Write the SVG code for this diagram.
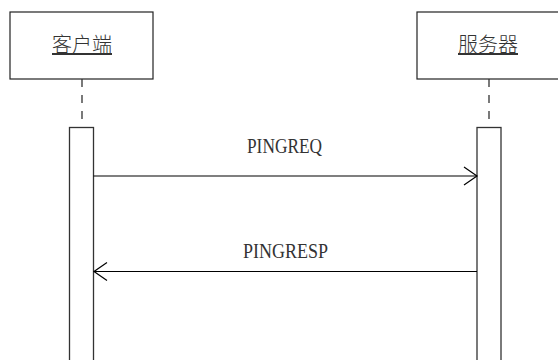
<svg xmlns="http://www.w3.org/2000/svg" width="558" height="360" viewBox="0 0 558 360">
<style>
.box{fill:#fff;stroke:#222;stroke-width:1.2}
.act{fill:#fff;stroke:#333;stroke-width:1.3}
.life{stroke:#333;stroke-width:1.3;stroke-dasharray:8 8;fill:none}
.msg{stroke:#000;stroke-width:1.2;fill:none}
.head{stroke:#000;stroke-width:1.2;fill:none}
.cjk{font-family:"Noto Sans CJK SC","Noto Sans",sans-serif;font-size:20px;font-weight:300;fill:#333;text-anchor:middle;text-decoration:underline}
.lbl{font-family:"Liberation Serif",serif;font-size:21px;fill:#333}
</style>
<rect width="558" height="360" fill="#fff"/>
<g id="client">
<rect class="box" x="10" y="12" width="143" height="67"/>
<text class="cjk" x="82" y="52">客户端</text>
<line class="life" x1="82" y1="79" x2="82" y2="127"/>
<rect class="act" x="69.5" y="127.5" width="24" height="240"/>
</g>
<g id="server">
<rect class="box" x="417" y="12" width="143" height="67"/>
<text class="cjk" x="488" y="52">服务器</text>
<line class="life" x1="489" y1="79" x2="489" y2="127"/>
<rect class="act" x="477" y="127.5" width="24" height="240"/>
</g>
<g id="connectors">
<g id="pingreq">
<line class="msg" x1="93.5" y1="176" x2="477" y2="176"/>
<polyline class="head" points="464,167 477,176 464,185"/>
<text class="lbl" x="247" y="153" textLength="75" lengthAdjust="spacingAndGlyphs">PINGREQ</text>
</g>
<g id="pingresp">
<line class="msg" x1="477" y1="271.5" x2="94" y2="271.5"/>
<polyline class="head" points="107,262.5 94,271.5 107,280.5"/>
<text class="lbl" x="243" y="258" textLength="85" lengthAdjust="spacingAndGlyphs">PINGRESP</text>
</g>
</g>
</svg>
